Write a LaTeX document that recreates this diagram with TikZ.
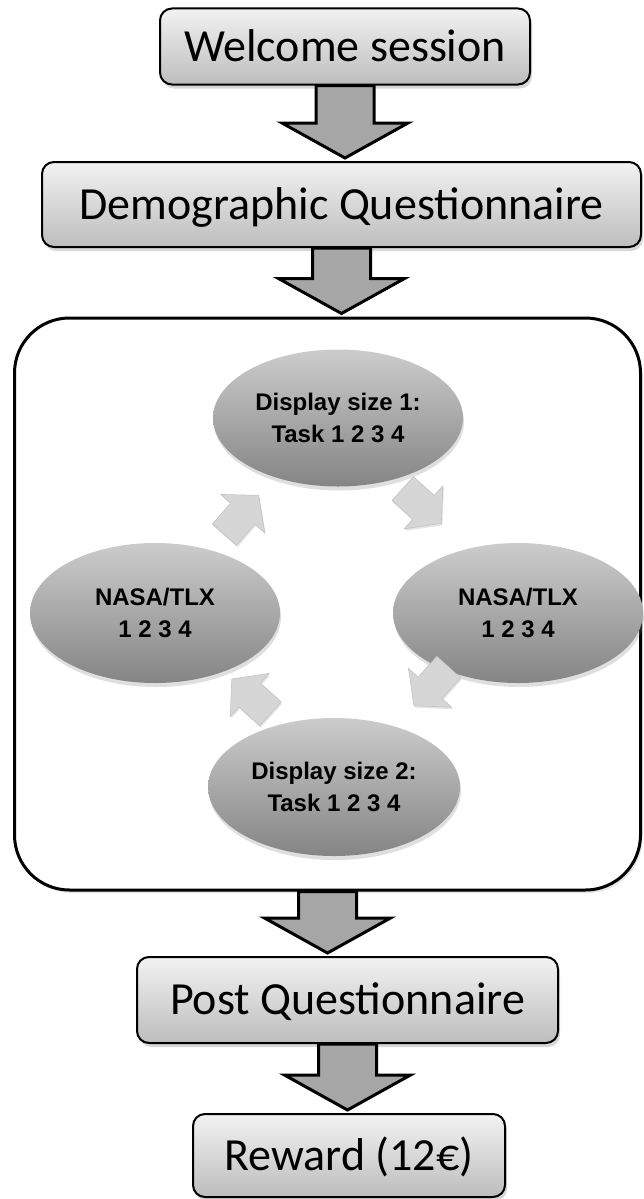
\documentclass[tikz,border=0pt]{standalone}
\usepackage{fontspec}
\setmainfont{Carlito}
\newfontfamily\arialf{Liberation Sans}
\usetikzlibrary{shapes.geometric,shadows,calc}
\tikzset{
  stage/.style={draw=black, line width=2pt, rounded corners=12pt,
    top color=black!5, bottom color=black!26,
    drop shadow={opacity=0.3, shadow xshift=2pt, shadow yshift=-4pt},
    font=\fontsize{46}{50}\selectfont, inner sep=0pt,
    text height=29.6pt, text depth=0pt},
  phase/.style={ellipse, draw=none, top color=black!20, bottom color=black!48,
    drop shadow={opacity=0.25, shadow xshift=1pt, shadow yshift=-4pt},
    font=\arialf\bfseries\fontsize{24}{32}\selectfont, align=center, inner sep=0pt},
  bigarr/.style={draw=black, line width=3pt, fill=black!35, line join=miter},
  cycstyle/.style={fill=black!16, draw=black!24, line width=0.6pt, line join=miter,
    drop shadow={opacity=0.2, shadow xshift=1pt, shadow yshift=-2pt}},
  cyc/.pic={\path[cycstyle] (-26,-16) -- (2,-16) -- (2,-29) -- (26,0) -- (2,29) -- (2,16) -- (-26,16) -- cycle;}
}
\newcommand\blockdown[2]{%
  \draw[bigarr] let \p1=(#1.south), \p2=(#2.north) in
    (\x1-29pt,\y1) -- (\x1+29pt,\y1) -- (\x1+29pt,\y2+38pt) -- (\x1+63pt,\y2+38pt)
    -- (\x1,\y2+3pt) -- (\x1-63pt,\y2+38pt) -- (\x1-29pt,\y2+38pt) -- cycle;}
\begin{document}
\begin{tikzpicture}[x=1pt,y=-1pt]
\useasboundingbox (0,0) rectangle (644,1199);
\fill[white] (0,0) rectangle (644,1199);

\node[stage, minimum width=370pt, minimum height=76pt] (welcome) at (345,46.5) {Welcome session};
\node[stage, minimum width=599pt, minimum height=85pt] (demo) at (341.5,204.5) {Demographic Questionnaire};

\node[draw=black, line width=3pt, rounded corners=55pt, minimum width=626pt, minimum height=572pt,
      drop shadow={opacity=0.2, shadow xshift=2pt, shadow yshift=-3pt}, fill=white] (loop) at (327.5,604) {};

\node[phase, minimum width=250pt, minimum height=137pt] (top) at (338,418) {Display size 1:\\Task 1 2 3 4};
\node[phase, minimum width=250pt, minimum height=140pt] (left) at (155,613) {NASA/TLX\\1 2 3 4};
\node[phase, minimum width=250pt, minimum height=140pt] (right) at (518,613) {NASA/TLX\\1 2 3 4};
\node[phase, minimum width=252pt, minimum height=138pt] (bottom) at (334,787) {Display size 2:\\Task 1 2 3 4};

\pic[rotate=49] at ($(top.south west)!0.5!(left.north east)+(-5,0)$) {cyc};
\pic[rotate=-42] at ($(top.south east)!0.5!(right.north west)+(-6,-9)$) {cyc};
\pic[rotate=-132] at ($(right.south west)!0.5!(bottom.north east)+(5,-14)$) {cyc};
\pic[rotate=138] at ($(left.south east)!0.5!(bottom.north west)+(7,-4)$) {cyc};

\node[stage, minimum width=421pt, minimum height=86pt] (post) at (347.5,1000) {Post Questionnaire};
\node[stage, minimum width=312pt, minimum height=83pt] (reward) at (349,1155.5) {Reward (12€)};

\blockdown{welcome}{demo}
\blockdown{demo}{loop}
\blockdown{loop}{post}
\blockdown{post}{reward}
\end{tikzpicture}
\end{document}
